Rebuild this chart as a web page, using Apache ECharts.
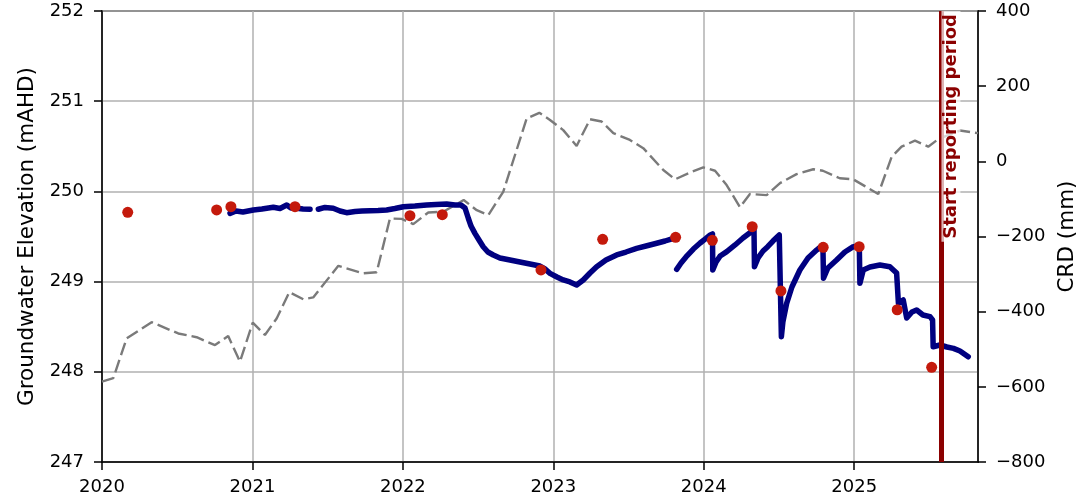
<!DOCTYPE html>
<html><head><meta charset="utf-8">
<script src="https://cdn.jsdelivr.net/npm/echarts@6/dist/echarts.min.js"></script>
<style>html,body{margin:0;padding:0;background:#fff}#c{width:1080px;height:503px}</style>
</head><body><div id="c"></div>
<script>
// ---- data ----
const xTickYears = [2020, 2021, 2022, 2023, 2024, 2025];
const xMaxYear = 2025.823;

// Logger groundwater elevation (mAHD); null = gap in record
const gwYears = [2020.851,2020.891,2020.937,2021.006,2021.063,2021.139,2021.183,2021.228,2021.256,2021.294,2021.336,2021.383,2021.41,
  2021.438,2021.482,2021.537,2021.582,2021.626,2021.682,2021.728,2021.781,2021.835,2021.892,2021.947,2022.003,2022.080,2022.158,2022.220,2022.291,2022.346,2022.386,2022.413,
  2022.435,2022.453,2022.479,2022.506,2022.534,2022.565,2022.601,2022.645,2022.712,2022.778,2022.845,2022.911,2022.944,2022.978,2023.024,2023.066,2023.110,2023.155,
  2023.199,2023.244,2023.288,2023.350,2023.421,2023.483,2023.554,2023.616,2023.687,2023.743,2023.783,2023.80,
  2023.820,2023.849,2023.882,2023.931,2023.976,2024.009,2024.043,2024.058,2024.060,2024.082,2024.109,2024.153,2024.208,2024.261,2024.314,2024.334,
  2024.337,2024.361,2024.394,2024.425,2024.460,2024.502,2024.510,2024.516,2024.526,2024.551,2024.586,2024.639,2024.693,2024.750,2024.792,
  2024.796,2024.825,2024.883,2024.938,2024.994,2025.034,2025.038,2025.060,2025.105,2025.171,2025.237,2025.282,2025.291,
  2025.294,2025.326,2025.349,2025.384,2025.415,2025.457,2025.504,2025.521,2025.525,2025.570,2025.616,2025.660,2025.703,2025.758];
const gwLevels = [249.757,249.783,249.772,249.794,249.805,249.824,249.811,249.849,249.816,249.813,249.805,249.802,null,
  249.802,249.822,249.813,249.783,249.764,249.777,249.783,249.786,249.788,249.794,249.810,249.830,249.838,249.849,249.855,249.860,249.849,249.849,249.816,
  249.702,249.616,249.535,249.461,249.387,249.328,249.295,249.262,249.239,249.217,249.195,249.173,249.140,249.092,249.051,249.018,248.996,248.962,
  249.018,249.095,249.165,249.239,249.295,249.328,249.369,249.395,249.425,249.450,249.472,null,
  249.136,249.206,249.273,249.361,249.428,249.472,249.517,249.528,249.129,249.217,249.284,249.332,249.406,249.483,249.550,249.583,
  249.165,249.262,249.339,249.387,249.450,249.517,249.498,248.389,248.552,248.759,248.940,249.129,249.262,249.350,249.406,
  249.037,249.151,249.239,249.328,249.387,249.395,248.981,249.129,249.162,249.184,249.165,249.095,249.073,
  248.759,248.796,248.596,248.663,248.685,248.630,248.611,248.574,248.278,248.297,248.275,248.260,248.231,248.167];

// Manual dip measurements (mAHD)
const manualYears = [2020.171,2020.762,2020.857,2021.283,2022.047,2022.262,2022.918,2023.328,2023.813,2024.057,2024.322,2024.513,2024.794,2025.033,2025.286,2025.515];
const manualLevels = [249.768,249.794,249.830,249.830,249.731,249.742,249.129,249.469,249.491,249.458,249.609,248.896,249.380,249.387,248.688,248.050];

// Cumulative rainfall deviation (mm)
const crdYears = [2020.000,2020.075,2020.164,2020.330,2020.507,2020.629,2020.751,2020.839,2020.917,2021.002,2021.083,2021.161,2021.245,2021.338,2021.404,2021.571,2021.737,2021.826,2021.914,2021.992,
  2022.069,2022.169,2022.269,2022.404,2022.491,2022.568,2022.667,2022.823,2022.907,2022.978,2023.066,2023.155,2023.244,2023.321,2023.399,2023.509,2023.598,2023.731,2023.809,2023.920,
  2023.997,2024.075,2024.152,2024.241,2024.307,2024.418,2024.507,2024.617,2024.728,2024.792,2024.904,2024.994,2025.071,2025.160,2025.249,2025.315,2025.404,2025.492,2025.559,2025.703,2025.823];
const crdValues = [-586,-577,-471,-428,-458,-468,-489,-465,-533,-429,-462,-418,-348,-367,-362,-278,-298,-295,-152,-153,
  -167,-136,-134,-103,-130,-143,-81,114,129,110,83,41,112,106,75,57,35,-23,-48,-28,
  -16,-25,-63,-122,-87,-90,-58,-34,-21,-25,-45,-48,-66,-87,12,39,55,39,59,82,75];

const reportStartYear = 2025.58;
const reportLabel = 'Start reporting period';
const leftAxisName = 'Groundwater Elevation (mAHD)';
const rightAxisName = 'CRD (mm)';

// ---- chart ----
const FONT = 'DejaVu Sans';
const pair = (xs, ys) => xs.map((x, i) => [x, ys[i] === null ? '-' : ys[i]]);
const chart = echarts.init(document.getElementById('c'), null, {renderer: 'canvas'});
const axisLineStyle = {color: '#000', width: 1.5};
chart.setOption({
  animation: false,
  backgroundColor: '#fff',
  textStyle: {fontFamily: FONT},
  grid: {left: 102, right: 102, top: 11, bottom: 41, show: true, borderColor: '#000', borderWidth: 1.5,
    containLabel: false, outerBoundsMode: 'none'},
  xAxis: {
    type: 'value', min: xTickYears[0], max: xMaxYear, interval: 1,
    axisLine: {onZero: false, lineStyle: axisLineStyle},
    axisTick: {length: 8, lineStyle: axisLineStyle},
    axisLabel: {color: '#000', fontSize: 18, fontFamily: FONT, margin: 16, showMaxLabel: false,
      formatter: v => xTickYears.includes(v) ? String(v) : ''},
    splitLine: {show: true, lineStyle: {color: '#b0b0b0', width: 1.5}}
  },
  yAxis: [{
    type: 'value', min: 247, max: 252, interval: 1, position: 'left',
    name: leftAxisName, nameLocation: 'middle', nameGap: 55,
    nameTextStyle: {color: '#000', fontSize: 21.5, fontFamily: FONT},
    axisLine: {show: true, onZero: false, lineStyle: axisLineStyle},
    axisTick: {show: true, length: 8, lineStyle: axisLineStyle},
    axisLabel: {color: '#000', fontSize: 18, fontFamily: FONT, margin: 18},
    splitLine: {show: true, lineStyle: {color: '#b0b0b0', width: 1.5}}
  }, {
    type: 'value', min: -800, max: 400, interval: 200, position: 'right',
    name: rightAxisName, nameLocation: 'middle', nameGap: 78,
    nameTextStyle: {color: '#000', fontSize: 21.5, fontFamily: FONT},
    axisLine: {show: true, onZero: false, lineStyle: axisLineStyle},
    axisTick: {show: true, length: 8, lineStyle: axisLineStyle},
    axisLabel: {color: '#000', fontSize: 18, fontFamily: FONT, margin: 18,
      formatter: v => String(v).replace('-', '\u2212')},
    splitLine: {show: false}
  }],
  series: [{
    name: 'CRD', type: 'line', yAxisIndex: 1, data: pair(crdYears, crdValues),
    showSymbol: false, symbol: 'none', silent: true,
    lineStyle: {color: '#7a7a7a', width: 2.4, type: [13, 5]}, z: 2
  }, {
    name: 'Groundwater', type: 'line', yAxisIndex: 0, data: pair(gwYears, gwLevels),
    showSymbol: false, symbol: 'none', connectNulls: false, silent: true,
    lineStyle: {color: '#000080', width: 5.5, join: 'round', cap: 'round'}, z: 3
  }, {
    name: 'Manual', type: 'scatter', yAxisIndex: 0, data: pair(manualYears, manualLevels),
    symbol: 'circle', symbolSize: 11, itemStyle: {color: '#c41a0c', opacity: 1}, silent: true, z: 4,
    markLine: {
      silent: true, symbol: ['none', 'none'], animation: false,
      lineStyle: {color: '#8b0000', width: 5, type: 'solid', opacity: 1},
      label: {show: true, formatter: reportLabel, position: 'insideEndBottom', distance: 0,
        color: '#8b0000', fontWeight: 'bold', fontSize: 18, fontFamily: FONT,
        backgroundColor: 'rgba(255,255,255,0.7)', padding: [1, 3, 0, 3]},
      emphasis: {disabled: true},
      data: [{xAxis: reportStartYear}]
    }
  }]
});
</script>
</body></html>
